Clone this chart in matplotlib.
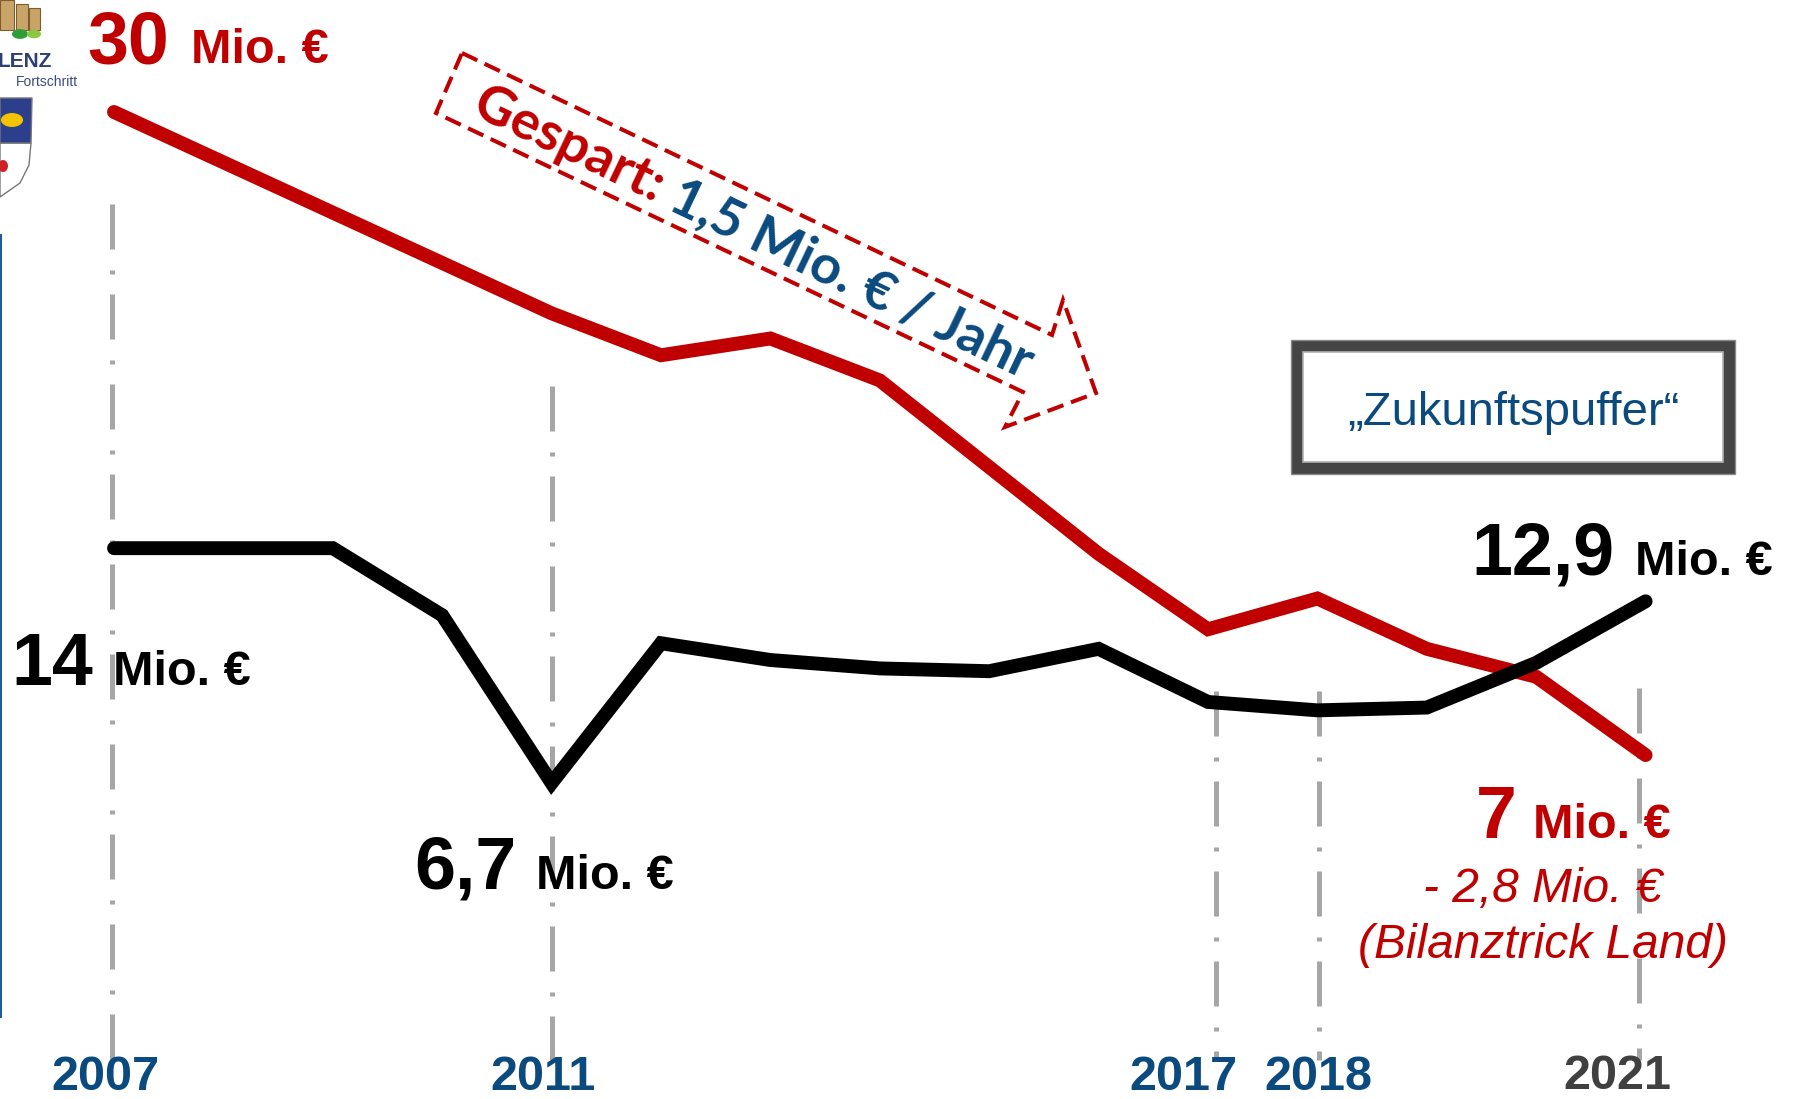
"""
Rücklage vs. Ergebnis 2007-2021 – slide-style line chart.
"""

import numpy as np
import matplotlib
matplotlib.use("Agg")
import matplotlib.pyplot as plt
from matplotlib.patches import Polygon, Rectangle, Ellipse, Circle
from matplotlib.lines import Line2D

# ── Data ─────────────────────────────────────────────────────────────────────

YEARS = list(range(2007, 2022))
RED_VALUES = [30.0, 28.2, 26.4, 24.6, 22.8, 21.3, 21.9, 20.4, 17.3, 14.2,
              11.5, 12.6, 10.8, 9.8, 7.0]           # Mio. €
BLACK_VALUES = [14.4, 14.4, 14.4, 12.0, 6.0, 11.0, 10.4, 10.1, 10.0, 10.8,
                8.9, 8.6, 8.7, 10.3, 12.5]          # Mio. €

GUIDE_YEARS = [2007, 2011, 2017, 2018, 2021]
GUIDE_TOPS = [26.7, 20.2, 9.3, 9.3, 9.4]
GUIDE_BOTTOM = -3.9

YEAR_LABELS = ["2007", "2011", "2017", "2018", "2021"]

# ── Canvas geometry (pixels of the 1796x1099 slide) ──────────────────────────

W, H = 1796, 1099
X0_PX, DX_PX = 114, 109.4      # x pixel of 2007, pixels per year
Y0_PX, DY_PX = 950.8, 27.96    # y pixel of value 0, pixels per Mio. €
GUIDE_SHIFT_PX = [-2, 0, 8, 2, -7]   # hand-placed guides sit slightly off

RED = "#C00000"
BLUE = "#0B4A7E"
GREY = "#A6A6A6"

plt.rcParams["font.family"] = ["Liberation Sans", "DejaVu Sans"]


def fxy(x, y):
    """pixel (top-left origin) -> figure fraction"""
    return x / W, 1 - y / H


def ftext(x, y, s, **kw):
    kw.setdefault("va", "baseline")
    return fig.text(*fxy(x, y), s, **kw)


fig = plt.figure(figsize=(W / 100, H / 100), dpi=100)
fig.patch.set_facecolor("white")
ax = fig.add_axes([0, 0, 1, 1])
ax.set_xlim(2007 - X0_PX / DX_PX, 2007 + (W - X0_PX) / DX_PX)
ax.set_ylim((Y0_PX - H) / DY_PX, Y0_PX / DY_PX)
ax.axis("off")

# ── Guides and lines ─────────────────────────────────────────────────────────

for yr, top, sh in zip(GUIDE_YEARS, GUIDE_TOPS, GUIDE_SHIFT_PX):
    gx = yr + sh / DX_PX
    ax.plot([gx, gx], [top, GUIDE_BOTTOM], color=GREY, lw=3.6,
            linestyle=(0, (9, 4.2, 0.8, 4.0)), dash_capstyle="butt", zorder=1)

ax.plot(YEARS, RED_VALUES, color=RED, lw=10, solid_capstyle="round",
        solid_joinstyle="miter", zorder=2)
ax.plot(YEARS, BLACK_VALUES, color="black", lw=10, solid_capstyle="round",
        solid_joinstyle="miter", zorder=3)

# ── Value labels ─────────────────────────────────────────────────────────────

big = dict(fontsize=53, fontweight="bold")
mid = dict(fontsize=35, fontweight="bold")

ftext(87, 63, "30", color=RED, **big)
ftext(191, 63, "Mio. €", color=RED, **mid)

ftext(11, 685, "14", color="black", **big)
ftext(113, 685, "Mio. €", color="black", **mid)

ftext(414, 889, "6,7", color="black", **big)
ftext(536, 889, "Mio. €", color="black", **mid)

ftext(1471, 575, "12,9", color="black", **big)
ftext(1635, 575, "Mio. €", color="black", **mid)

ftext(1476, 838, "7", color=RED, **big)
ftext(1533, 838, "Mio. €", color=RED, **mid)
ftext(1543, 902, "- 2,8 Mio. €", color=RED, fontsize=34.5, style="italic",
      ha="center")
ftext(1543, 958, "(Bilanztrick Land)", color=RED, fontsize=34.5, style="italic",
      ha="center")

# year labels
year_x = [105, 543, 1183, 1318, 1617]
year_y = [1090, 1090, 1090, 1090, 1089]
year_c = [BLUE, BLUE, BLUE, BLUE, "#404040"]
for lab, x, y, c in zip(YEAR_LABELS, year_x, year_y, year_c):
    ftext(x, y, lab, color=c, fontsize=35, fontweight="bold", ha="center")

# ── "Zukunftspuffer" box ─────────────────────────────────────────────────────

tf = fig.transFigure
bx0, by0, bx1, by1 = 1291, 340, 1735, 474
fig.patches.append(Rectangle(fxy(bx0, by1), (bx1 - bx0) / W, (by1 - by0) / H,
                             transform=tf, facecolor="#454545",
                             edgecolor="#8a8a8a", lw=1))
fig.patches.append(Rectangle(fxy(bx0 + 12, by1 - 12), (bx1 - bx0 - 24) / W,
                             (by1 - by0 - 24) / H, transform=tf,
                             facecolor="white", edgecolor="#b0b0b0", lw=1.2))
ftext(1513, 425, "„Zukunftspuffer“", color=BLUE, fontsize=34, ha="center")

# ── Dashed arrow "Gespart" ───────────────────────────────────────────────────

arrow_px = [(462, 53), (1052, 335), (1063, 300), (1096, 393), (1005, 427),
            (1023, 392), (436, 113)]
fig.patches.append(Polygon([fxy(*p) for p in arrow_px], closed=True, fill=False,
                           edgecolor=RED, lw=2.9, linestyle=(0, (4.2, 2.0)),
                           transform=tf))

ang = np.arctan2(282, 590)
d = np.array([np.cos(ang), np.sin(ang)])          # along arrow (pixel, y down)
n = np.array([-np.sin(ang), np.cos(ang)])         # perpendicular, downwards
centre = np.array([449, 83])

renderer = fig.canvas.get_renderer()
font = dict(family=["Lato", "DejaVu Sans"], fontweight="bold")


def width_px(s, size):
    t = fig.text(0, 0, s, fontsize=size, **font)
    w = t.get_window_extent(renderer).width
    t.remove()
    return w


full = "Gespart: 1,5 Mio. € / Jahr"
fs = 30 * 612 / width_px(full, 30)
w_first = width_px("Gespart:", fs) + (width_px("a a", fs) - width_px("aa", fs))
start = centre + 32 * d + 0.36 * fs * 100 / 72 * n
p2 = start + w_first * d
rot = -np.degrees(ang)
for s, p, c in [("Gespart:", start, RED), ("1,5 Mio. € / Jahr", p2, BLUE)]:
    fig.text(*fxy(*p), s, color=c, fontsize=fs, rotation=rot,
             rotation_mode="anchor", ha="left", va="baseline", **font)

# ── Logo fragment (top-left) and left rule ───────────────────────────────────

for (x, y, w, h) in [(0, 0, 14, 30), (16, 4, 12, 26), (29, 8, 11, 22)]:
    fig.patches.append(Rectangle(fxy(x, y + h), w / W, h / H, transform=tf,
                                 facecolor="#C9A468", edgecolor="#7d5d2e", lw=0.8))
fig.patches.append(Circle(fxy(20, 34), 8 / W, transform=tf, facecolor="#2E9E3A"))
fig.patches.append(Circle(fxy(34, 34), 7 / W, transform=tf, facecolor="#8DC63F"))
ftext(52, 67, "LENZ", color="#2E3F77", fontsize=15, fontweight="bold", ha="right")
ftext(78, 86, "Fortschritt", color="#3B4B80", fontsize=10, ha="right")

fig.patches.append(Polygon([fxy(*p) for p in
                            [(0, 143), (31, 143), (29, 165), (20, 183), (0, 197)]],
                           closed=True, facecolor="white", edgecolor="#777777",
                           lw=1, transform=tf))
fig.patches.append(Polygon([fxy(*p) for p in [(0, 98), (32, 98), (31, 143), (0, 143)]],
                           closed=True, facecolor="#2B3F8C", edgecolor="#777777",
                           lw=1, transform=tf))
fig.patches.append(Ellipse(fxy(12, 120), 22 / W, 14 / H, transform=tf,
                           facecolor="#F2C500"))
fig.patches.append(Ellipse(fxy(3, 166), 10 / W, 12 / H, transform=tf,
                           facecolor="#CC2222"))

fig.lines.append(Line2D([1 / W, 1 / W], [1 - 235 / H, 1 - 1017 / H],
                        color="#1F5C99", lw=1.5, transform=tf))

fig.savefig("out.png", dpi=100)
